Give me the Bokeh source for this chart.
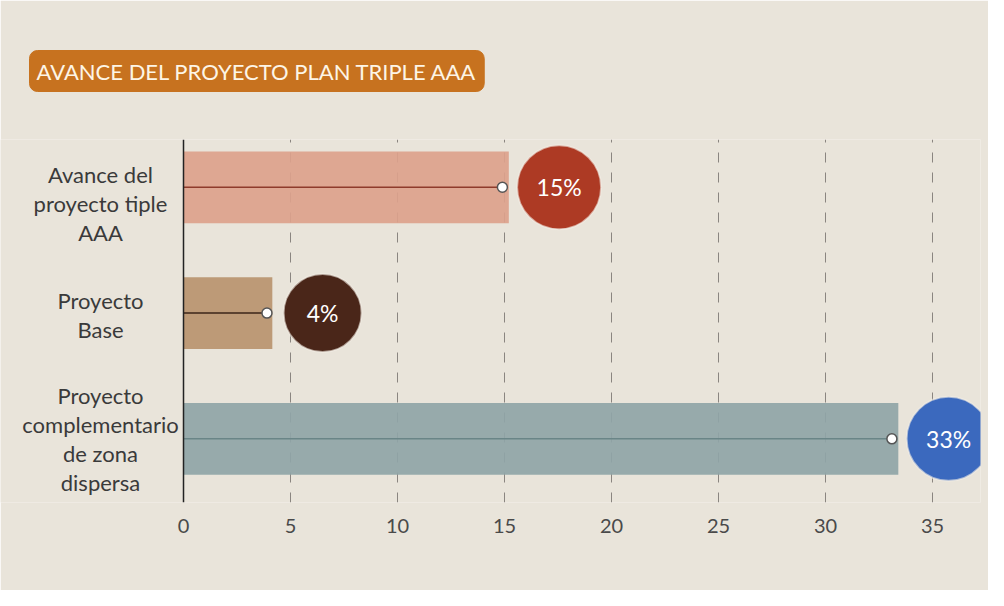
from bokeh.plotting import figure
from bokeh.models import ColumnDataSource, Range1d, FixedTicker, Title, LabelSet, Span
from bokeh.transform import dodge
from bokeh.core.properties import value
from bokeh.embed import file_html
from bokeh.resources import INLINE

# ---- data ----
categories = ["Avance del\nproyecto tiple\nAAA", "Proyecto\nBase",
              "Proyecto\ncomplementario\nde zona\ndispersa"]
bar_values = [15.2, 4.15, 33.4]
point_values = [14.9, 3.9, 33.1]
pct_labels = ["15%", "4%", "33%"]
x_ticks = [0, 5, 10, 15, 20, 25, 30, 35]
title_text = "AVANCE DEL PROYECTO PLAN TRIPLE AAA"

# ---- styles ----
bar_colors = ["#dca28c", "#b8946f", "#8fa5a7"]
line_colors = ["#8e3b2b", "#3c2418", "#6a8587"]
bubble_colors = ["#ad3a24", "#4a2619", "#3b69be"]
bubble_sizes = [84, 78, 84]
label_offsets = [-16, -2, 0]
LINE_H = 29
BG = "#e9e4da"
FONT = "Lato"

n = len(categories)
ypos = [n - 1 - i for i in range(n)]

src = ColumnDataSource(dict(
    y=ypos, bar=bar_values, pt=point_values, pct=pct_labels,
    bcol=bar_colors, lcol=line_colors, ccol=bubble_colors, csize=bubble_sizes,
    zero=[0] * n,
))

# one centered label per text line of each category
lab = dict(text=[], y=[], off=[])
for i, cat in enumerate(categories):
    lines = cat.split("\n")
    k = len(lines)
    for j, ln in enumerate(lines):
        lab["text"].append(ln)
        lab["y"].append(ypos[i])
        lab["off"].append(label_offsets[i] + ((k - 1) / 2 - j) * LINE_H)
lab_src = ColumnDataSource(lab)

p = figure(width=988, height=590, output_backend="svg", toolbar_location=None,
           x_range=Range1d(-8.551, 37.24), y_range=Range1d(-0.506, 2.38),
           y_axis_location=None,
           min_border_left=0, min_border_right=8, min_border_top=137,
           min_border_bottom=88, title=None)
p.background_fill_color = BG
p.border_fill_color = BG
p.outline_line_color = None

# title badge
t = Title(text=title_text, align="left", offset=29, standoff=96, text_font=FONT,
          text_font_size="22px", text_font_style="normal", text_color="#fdf5e6",
          background_fill_color="#c7721f", border_line_color="#c7721f",
          padding=7, border_radius=8)
p.add_layout(t, "above")

# x axis
p.xaxis.ticker = FixedTicker(ticks=x_ticks)
p.xaxis.axis_line_color = None
p.xaxis.major_tick_line_color = None
p.xaxis.minor_tick_line_color = None
p.xaxis.major_label_text_font = FONT
p.xaxis.major_label_text_font_size = "20px"
p.xaxis.major_label_text_color = "#4a4a4a"
p.xaxis.major_label_standoff = 10

# y axis line at zero
p.add_layout(Span(location=0, dimension="height", line_color="#222222", line_width=1.5))

p.ygrid.grid_line_color = None
p.xgrid.ticker = FixedTicker(ticks=x_ticks[1:])
p.xgrid.grid_line_color = "#8a8580"
p.xgrid.grid_line_dash = "10 10"
p.xgrid.grid_line_width = 1

# bars
p.hbar(y="y", left=0, right="bar", height=0.57, fill_color="bcol", fill_alpha=0.92,
       line_color=None, source=src)
# center lines
p.segment(x0="zero", y0="y", x1="pt", y1="y", line_color="lcol", line_width=1.5, source=src)
# dots
p.scatter(x="pt", y="y", size=10, marker="circle", fill_color="white",
          line_color="#555555", line_width=1.5, source=src)
# bubbles
p.scatter(x=dodge("bar", 2.35), y="y", size="csize", marker="circle", fill_color="ccol",
          line_color="#f4efe6", line_alpha=0.6, line_width=2, source=src)
p.text(x=dodge("bar", 2.35), y="y", text="pct", text_align="center", text_baseline="middle",
       text_color="white", text_font=value(FONT), text_font_size="23px", source=src)

# category labels
labels = LabelSet(x=100, y="y", x_units="screen", y_offset="off", text="text",
                  text_align="center", text_baseline="middle", text_font=value(FONT),
                  text_font_size="22px", text_color="#3a3a3a", source=lab_src)
p.add_layout(labels)

open("out.html", "w").write(file_html(p, INLINE))
